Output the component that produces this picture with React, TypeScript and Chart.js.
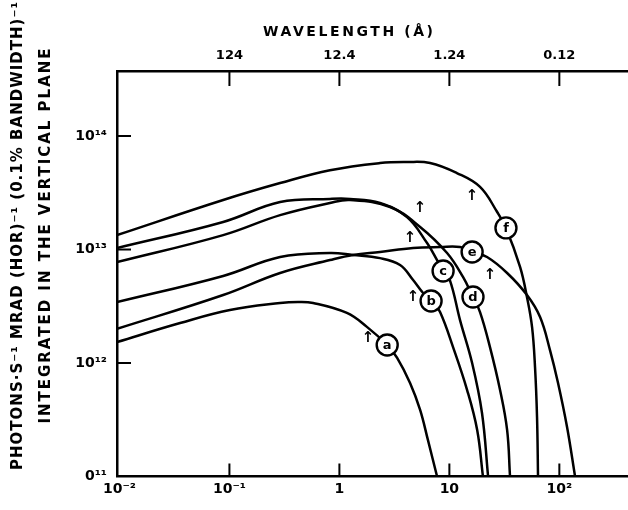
import React, { useEffect, useRef } from 'react';
import { Chart, registerables } from 'chart.js';

Chart.register(...registerables);

// ---- axis ranges ----
const X_MIN = 0.0095;
const X_MAX = 421;
const Y_MIN = 1e11;
const Y_MAX = 3.74e14;

// ---- tick values and labels ----
const xTickValues = [0.01, 0.1, 1, 10, 100];
const xTickLabels = ['10⁻²', '10⁻¹', '1', '10', '10²'];
const topTickValues = [0.1, 1, 10, 100];
const topTickLabels = ['124', '12.4', '1.24', '0.12'];
const yTickValues = [1e11, 1e12, 1e13, 1e14];
const yTickLabels = ['0¹¹', '10¹²', '10¹³', '10¹⁴'];
const innerXTicks = [0.1, 1, 10, 100];
const innerYTicks = [1e12, 1e13, 1e14];

// ---- curves: photon energy (keV) and flux ----
const energyA = [0.0095, 0.0356, 0.101, 0.289, 0.42, 0.577, 1.17, 1.79, 2.72, 3.35, 4.39, 5.42, 6.38, 7.73];
const fluxA = [1.53e12, 2.25e12, 2.93e12, 3.38e12, 3.45e12, 3.38e12, 2.76e12, 2.07e12, 1.44e12, 1.11e12, 6.67e11, 3.86e11, 2.1e11, 1.0e11];

const energyB = [0.0095, 0.0877, 0.289, 0.82, 1.33, 2.34, 3.56, 4.68, 5.77, 6.97, 8.23, 10.8, 14.5, 17.9, 20.2];
const fluxB = [3.44e12, 5.85e12, 8.59e12, 9.31e12, 8.95e12, 8.4e12, 7.3e12, 5.38e12, 4.14e12, 3.52e12, 2.81e12, 1.38e12, 5.78e11, 2.57e11, 1.0e11];

const energyC = [0.0095, 0.0877, 0.289, 0.82, 1.25, 2.34, 4.12, 6.27, 7.73, 8.77, 10.1, 12.5, 16.1, 19.8, 22.5];
const fluxC = [1.03e13, 1.75e13, 2.62e13, 2.79e13, 2.79e13, 2.57e13, 1.93e13, 1.14e13, 8.07e12, 6.47e12, 5.38e12, 2.39e12, 1.0e12, 3.63e11, 1.0e11];

const energyD = [0.0095, 0.0877, 0.289, 0.82, 1.25, 2.89, 5.42, 9.53, 13.3, 16.4, 19.0, 23.4, 28.9, 33.5, 35.6];
const fluxD = [7.74e12, 1.34e13, 2.01e13, 2.57e13, 2.73e13, 2.37e13, 1.58e13, 9.31e12, 5.73e12, 3.81e12, 2.81e12, 1.38e12, 5.78e11, 2.57e11, 1.0e11];

const energyE = [0.0095, 0.0877, 0.289, 0.82, 1.33, 2.34, 4.68, 8.23, 12.5, 16.1, 22.0, 33.5, 50.8, 66.8, 82.2, 97.3, 117.5, 139];
const fluxE = [2.0e12, 3.97e12, 6.21e12, 8.07e12, 8.95e12, 9.51e12, 1.03e13, 1.05e13, 1.05e13, 9.51e12, 8.59e12, 6.21e12, 3.97e12, 2.54e12, 1.3e12, 6.67e11, 2.73e11, 1.0e11];

const energyF = [0.0095, 0.0877, 0.289, 0.82, 2.34, 4.12, 6.68, 11.7, 19.0, 27.2, 32.7, 44.0, 50.8, 56.5, 60.1, 62.7, 64.0];
const fluxF = [1.34e13, 2.73e13, 3.85e13, 5.0e13, 5.78e13, 5.9e13, 5.78e13, 4.72e13, 3.56e13, 2.14e13, 1.55e13, 7.0e12, 3.8e12, 2.07e12, 9.2e11, 3.3e11, 1.0e11];

// ---- curve letters (circled) and critical-energy arrows ----
const curveNames = ['a', 'b', 'c', 'd', 'e', 'f'];
const labelEnergy = [2.72, 6.82, 8.77, 16.4, 16.1, 32.7];
const labelFlux = [1.44e12, 3.52e12, 6.47e12, 3.81e12, 9.51e12, 1.55e13];
const arrowEnergy = [1.82, 4.68, 4.39, 5.42, 23.4, 16.1];
const arrowFlux = [1.66e12, 3.81e12, 1.26e13, 2.32e13, 5.96e12, 2.96e13];

// ---- texts ----
const topTitle = 'WAVELENGTH (Å)';
const yTitle1 = 'PHOTONS·S⁻¹ MRAD (HOR)⁻¹ (0.1% BANDWIDTH)⁻¹';
const yTitle2 = 'INTEGRATED IN THE VERTICAL PLANE';

const FONT = '"DejaVu Sans", "Liberation Sans", sans-serif';

function drawSpaced(ctx: CanvasRenderingContext2D, text: string, cx: number, cy: number, target: number, rotate: boolean, size: number) {
  ctx.save();
  ctx.translate(cx, cy);
  if (rotate) ctx.rotate(-Math.PI / 2);
  ctx.font = `bold ${size}px ${FONT}`;
  const anyCtx = ctx as any;
  anyCtx.letterSpacing = '0px';
  const w = ctx.measureText(text).width;
  const n = Array.from(text).length;
  const sp = (target - w) / Math.max(n - 1, 1);
  anyCtx.letterSpacing = `${sp}px`;
  ctx.textAlign = 'left';
  ctx.textBaseline = 'middle';
  ctx.fillStyle = '#000';
  ctx.fillText(text, -target / 2, 0);
  ctx.restore();
}

const decorPlugin = {
  id: 'decor',
  afterDatasetsDraw(chart: any) {
    const ctx: CanvasRenderingContext2D = chart.ctx;
    const xs = chart.scales.x;
    const ys = chart.scales.y;
    const area = chart.chartArea;
    ctx.save();
    ctx.strokeStyle = '#000';
    ctx.lineWidth = 2;
    ctx.lineCap = 'butt';
    innerXTicks.forEach((v) => {
      const px = xs.getPixelForValue(v);
      ctx.beginPath();
      ctx.moveTo(px, area.bottom);
      ctx.lineTo(px, area.bottom - 13);
      ctx.moveTo(px, area.top);
      ctx.lineTo(px, area.top + 15);
      ctx.stroke();
    });
    innerYTicks.forEach((v) => {
      const py = ys.getPixelForValue(v);
      ctx.beginPath();
      ctx.moveTo(area.left, py);
      ctx.lineTo(area.left + 14, py);
      ctx.stroke();
    });
    // critical energy arrows
    ctx.fillStyle = '#000';
    ctx.font = `bold 15px ${FONT}`;
    ctx.textAlign = 'center';
    ctx.textBaseline = 'middle';
    arrowEnergy.forEach((e, i) => {
      ctx.fillText('↑', xs.getPixelForValue(e), ys.getPixelForValue(arrowFlux[i]));
    });
    // circled letters
    curveNames.forEach((name, i) => {
      const px = xs.getPixelForValue(labelEnergy[i]);
      const py = ys.getPixelForValue(labelFlux[i]);
      ctx.beginPath();
      ctx.arc(px, py, 10.5, 0, Math.PI * 2);
      ctx.fillStyle = '#fff';
      ctx.fill();
      ctx.lineWidth = 2.4;
      ctx.strokeStyle = '#000';
      ctx.stroke();
      ctx.fillStyle = '#000';
      ctx.font = `bold 13px ${FONT}`;
      ctx.fillText(name, px, py + 0.5);
    });
    ctx.restore();
  },
  afterDraw(chart: any) {
    const ctx: CanvasRenderingContext2D = chart.ctx;
    drawSpaced(ctx, topTitle, 348, 32, 170, false, 14);
    drawSpaced(ctx, yTitle1, 18, 236, 468, true, 15);
    drawSpaced(ctx, yTitle2, 46, 236, 375, true, 15);
  },
};

export default function App() {
  const ref = useRef<HTMLCanvasElement | null>(null);

  useEffect(() => {
    const canvas = ref.current;
    if (!canvas) return;
    const series = [
      { e: energyA, f: fluxA },
      { e: energyB, f: fluxB },
      { e: energyC, f: fluxC },
      { e: energyD, f: fluxD },
      { e: energyE, f: fluxE },
      { e: energyF, f: fluxF },
    ];
    const tickFont = { family: FONT, weight: 'bold' as const, size: 14 };
    const border = { display: true, color: '#000', width: 2.5 };
    const chart = new Chart(canvas, {
      type: 'line',
      data: {
        datasets: series.map((s, i) => ({
          label: curveNames[i],
          data: s.e.map((e, j) => ({ x: e, y: s.f[j] })),
          borderColor: '#000',
          borderWidth: 2.5,
          pointRadius: 0,
          fill: false,
          tension: 0.4,
        })),
      },
      options: {
        responsive: false,
        animation: false,
        events: [],
        layout: { padding: 0 },
        plugins: { legend: { display: false }, tooltip: { enabled: false } },
        scales: {
          x: {
            type: 'logarithmic',
            position: 'bottom',
            min: X_MIN,
            max: X_MAX,
            afterBuildTicks: (s: any) => {
              s.ticks = xTickValues.map((v) => ({ value: v }));
            },
            afterFit: (s: any) => {
              s.height = 33.5;
            },
            grid: { display: false, drawTicks: false, tickLength: 0 },
            border,
            ticks: {
              autoSkip: false,
              maxRotation: 0,
              minRotation: 0,
              padding: 4,
              color: '#000',
              font: tickFont,
              callback: (_v: any, i: number) => xTickLabels[i],
            },
          },
          x2: {
            type: 'logarithmic',
            position: 'top',
            min: X_MIN,
            max: X_MAX,
            afterBuildTicks: (s: any) => {
              s.ticks = topTickValues.map((v) => ({ value: v }));
            },
            afterFit: (s: any) => {
              s.height = 71;
            },
            grid: { display: false, drawTicks: false, tickLength: 0 },
            border,
            ticks: {
              autoSkip: false,
              maxRotation: 0,
              minRotation: 0,
              padding: 8,
              color: '#000',
              font: { family: FONT, weight: 'bold' as const, size: 13 },
              callback: (_v: any, i: number) => topTickLabels[i],
            },
          },
          y: {
            type: 'logarithmic',
            position: 'left',
            min: Y_MIN,
            max: Y_MAX,
            afterBuildTicks: (s: any) => {
              s.ticks = yTickValues.map((v) => ({ value: v }));
            },
            afterFit: (s: any) => {
              s.width = 117;
            },
            grid: { display: false, drawTicks: false, tickLength: 0 },
            border,
            ticks: {
              autoSkip: false,
              padding: 10,
              color: '#000',
              font: tickFont,
              callback: (_v: any, i: number) => yTickLabels[i],
            },
          },
        },
      } as any,
      plugins: [decorPlugin],
    });
    return () => chart.destroy();
  }, []);

  return (
    <div style={{ position: 'fixed', left: 0, top: 0, width: 628, height: 510, background: '#fff' }}>
      <canvas ref={ref} width={628} height={510} style={{ display: 'block', width: 628, height: 510 }} />
    </div>
  );
}
